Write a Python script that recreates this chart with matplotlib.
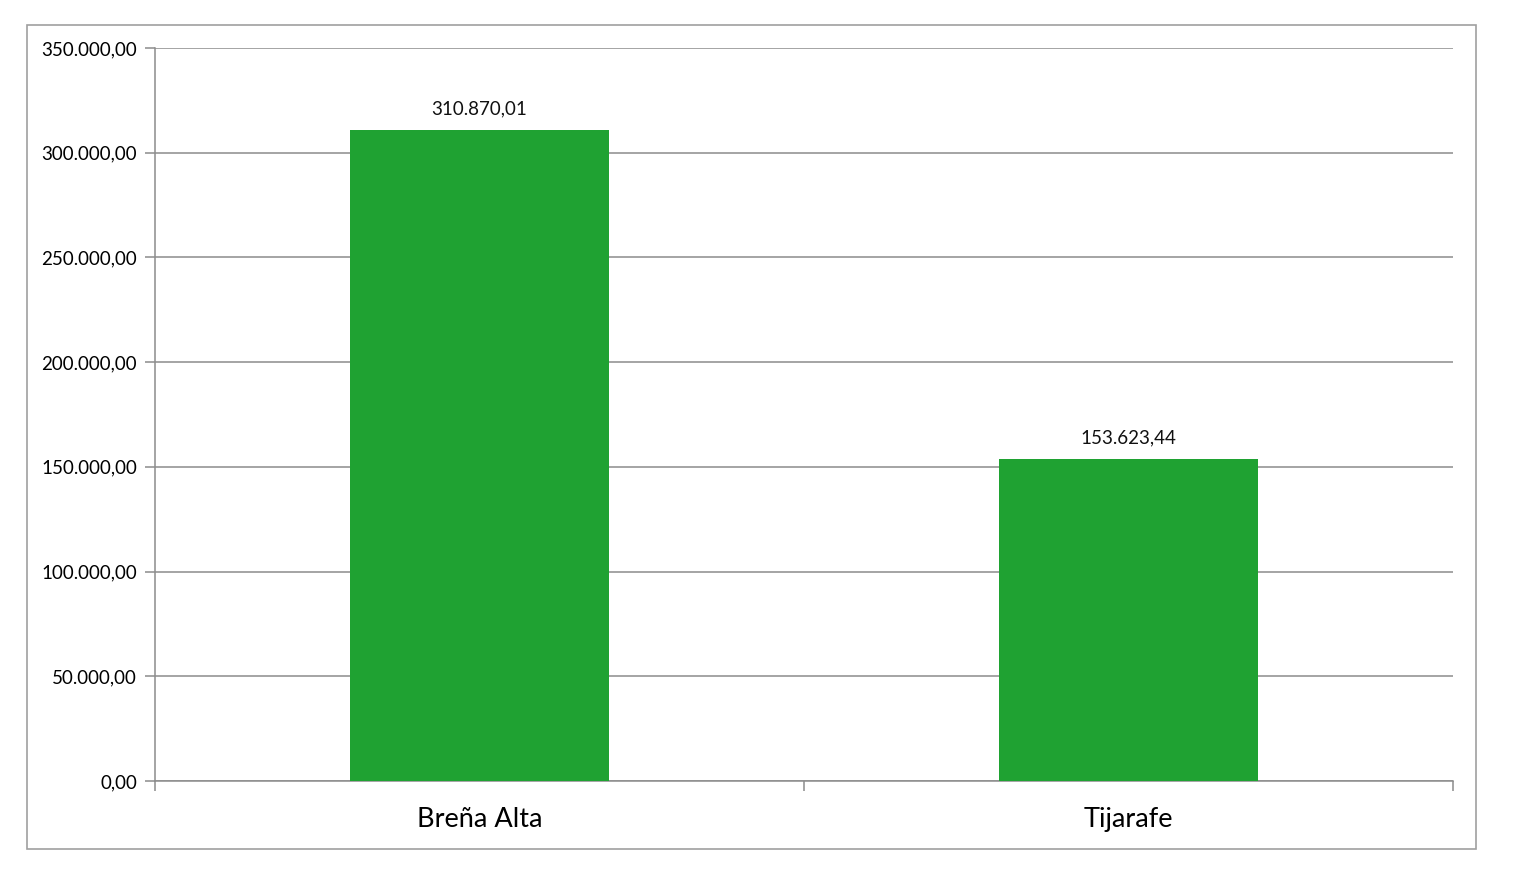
import numpy as np
import matplotlib
matplotlib.use('Agg')
import matplotlib.pyplot as plt
from matplotlib.patches import Rectangle

municipios = ['Breña Alta', 'Tijarafe']
importes = [310870.01, 153623.44]
yticks = [0, 50000, 100000, 150000, 200000, 250000, 300000, 350000]


def fmt_es(v):
    # 310870.01 -> 310.870,01
    s = '{:,.2f}'.format(v)
    return s.replace(',', 'X').replace('.', ',').replace('X', '.')


plt.rcParams['font.family'] = ['Lato', 'DejaVu Sans']

fig = plt.figure(figsize=(15.13, 8.84), dpi=100)
fig.patches.append(Rectangle((27 / 1513, 1 - 849 / 884), (1476 - 27) / 1513, (849 - 25) / 884,
                             transform=fig.transFigure, fill=False, edgecolor='#a0a0a0', linewidth=1.2))

ax = fig.add_axes([155 / 1513, 1 - 781 / 884, (1453 - 155) / 1513, (781 - 48) / 884])

x = np.arange(len(municipios))
ax.bar(x, importes, width=0.4, color='#1fa232', zorder=3)

for xi, v in zip(x, importes):
    ax.text(xi, v + 6000, fmt_es(v), ha='center', va='bottom', fontsize=13.5, color='#111111')

ax.set_xlim(-0.5, 1.5)
ax.set_ylim(0, 350000)
ax.set_yticks(yticks)
ax.set_yticklabels([fmt_es(t) for t in yticks], fontsize=13.5)
ax.yaxis.grid(True, color='#8c8c8c', linewidth=1.1, zorder=0)

ax.set_xticks(x)
ax.set_xticklabels(municipios, fontsize=19.5)
ax.tick_params(axis='x', which='major', length=0, pad=19)
ax.set_xticks([-0.5, 0.5, 1.5], minor=True)
ax.tick_params(axis='x', which='minor', length=7, color='#8c8c8c', width=1.1)
ax.tick_params(axis='y', length=7, color='#8c8c8c', width=1.1, pad=6)

for side in ['top', 'right']:
    ax.spines[side].set_visible(False)
for side in ['left', 'bottom']:
    ax.spines[side].set_color('#8c8c8c')
    ax.spines[side].set_linewidth(1.1)

fig.savefig('out.png', dpi=100)
